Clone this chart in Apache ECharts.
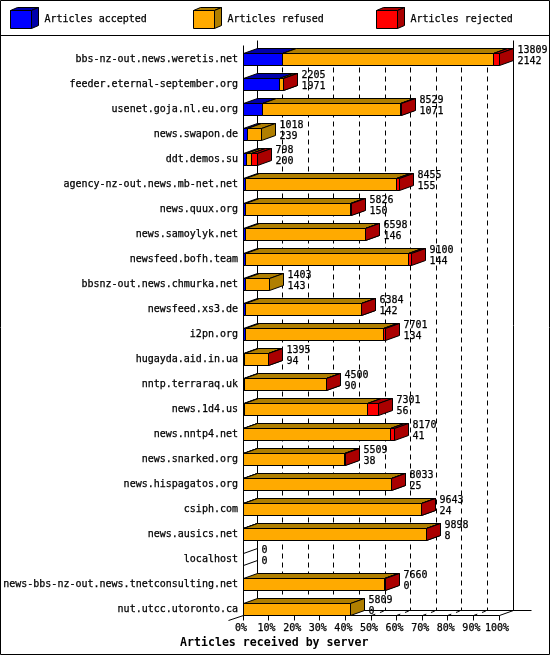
<!DOCTYPE html>
<html>
<head>
<meta charset="utf-8">
<style>html,body{margin:0;padding:0;background:#fff}#c{width:550px;height:655px}</style>
<script src="https://cdn.jsdelivr.net/npm/echarts@6/dist/echarts.min.js"></script>
</head>
<body>
<div id="c"></div>
<script>
const servers = ["bbs-nz-out.news.weretis.net","feeder.eternal-september.org","usenet.goja.nl.eu.org","news.swapon.de","ddt.demos.su","agency-nz-out.news.mb-net.net","news.quux.org","news.samoylyk.net","newsfeed.bofh.team","bbsnz-out.news.chmurka.net","newsfeed.xs3.de","i2pn.org","hugayda.aid.in.ua","nntp.terraraq.uk","news.1d4.us","news.nntp4.net","news.snarked.org","news.hispagatos.org","csiph.com","news.ausics.net","localhost","news-bbs-nz-out.news.tnetconsulting.net","nut.utcc.utoronto.ca"];
const offered = [13809,2205,8529,1018,798,8455,5826,6598,9100,1403,6384,7701,1395,4500,7301,8170,5509,8033,9643,9898,0,7660,5809];
const accepted = [2142,1971,1071,239,200,155,150,146,144,143,142,134,94,90,56,41,38,25,24,8,0,0,0];
const refused = [11344,220,7440,779,258,8140,5661,6446,8766,1260,6234,7427,1291,4398,6645,7914,5463,8000,9609,9878,0,7654,5809];
const rejected = [323,14,18,0,340,160,15,6,190,0,8,140,10,12,600,215,8,8,10,12,0,6,0];
const percentTicks = [0,10,20,30,40,50,60,70,80,90,100];
const FONT = '"DejaVu Sans Mono", monospace';
const TEXT_FONT = '10px ' + FONT;
const INK = {textBorderColor:'#000', textBorderWidth:0.25};
const DX = 14, DY = 5, HALF = 6;
const COLORS = [['#0000ff','#0000aa'],['#ffaa00','#b07f00'],['#ff0000','#aa0000']];
const scaleMax = Math.max(...offered);
const snap = v => Math.round(v - 0.5) + 0.5;
const pct = v => v / scaleMax * 100;
const chart = echarts.init(document.getElementById('c'), null, {renderer:'canvas'});

function poly(points, fill){
  return {type:'polygon', shape:{points}, style:{fill:fill, stroke:'#000', lineWidth:1}};
}
function line(x1,y1,x2,y2,dash){
  return {type:'line', shape:{x1,y1,x2,y2}, style:{stroke:'#000', lineWidth:1, lineDash:dash||null, fill:null}};
}
function segmentSeries(name, values, colorIdx, before){
  const rows = values.map((v,i) => [pct(before[i]), pct(before[i]+v), i, v, offered[i]]);
  return {
    name, type:'custom', z:3, coordinateSystem:'cartesian2d',
    itemStyle:{color:COLORS[colorIdx][0], borderColor:'#000', borderWidth:1},
    encode:{x:[0,1], y:2},
    data: rows,
    renderItem(params, api){
      const v = api.value(3);
      const cy = api.coord([0, api.value(2)])[1];
      const y0 = snap(cy - HALF), y1 = snap(cy + HALF);
      const xa = snap(api.coord([api.value(0), 0])[0]);
      const xb = snap(api.coord([api.value(1), 0])[0]);
      if (api.value(4) === 0 && colorIdx === 0) {
        return {type:'group', children:[line(xa,y0,xa+DX,y0-DY), line(xa,y1,xa+DX,y1-DY)]};
      }
      if (!(v > 0)) return {type:'group', children:[]};
      return {type:'group', children:[
        poly([[xa,y0],[xb,y0],[xb,y1],[xa,y1]], COLORS[colorIdx][0]),
        poly([[xa,y0],[xa+DX,y0-DY],[xb+DX,y0-DY],[xb,y0]], COLORS[colorIdx][1]),
        poly([[xb,y0],[xb+DX,y0-DY],[xb+DX,y1-DY],[xb,y1]], COLORS[colorIdx][1])
      ]};
    }
  };
}
const zeros = servers.map(()=>0);
const afterAccepted = accepted.slice();
const afterRefused = accepted.map((a,i)=>a+refused[i]);

const frameSeries = {
  type:'custom', z:1, silent:true, legendHoverLink:false,
  data:[[0,0]], encode:{x:0,y:1},
  renderItem(params, api){
    const yTop = api.coord([0,0])[1];
    const yBot = snap(api.coord([0,servers.length-1])[1] + HALF);
    const wallTop = snap(yTop - 19), frontTop = snap(yTop - 14);
    const kids = [];
    percentTicks.forEach(p=>{
      const x = snap(api.coord([p,0])[0]);
      const bx = x + DX, by = yBot - DY;
      if (p === 0 || p === 100) {
        kids.push(line(bx,wallTop,bx,by));
      } else {
        kids.push(line(bx,wallTop+9,bx,by,[5,4]));
        kids.push(line(x,yBot,bx,by,[4,5]));
      }
      kids.push(line(x,yBot,x,yBot+5));
    });
    const x0 = snap(api.coord([0,0])[0]), x1 = snap(api.coord([100,0])[0]);
    kids.push(line(x0,frontTop,x0,yBot));
    kids.push(line(x0,yBot,x1,yBot));
    kids.push(line(x0+DX,yBot-DY,x1+DX+18,yBot-DY));
    kids.push(line(x0-15,yBot+5,x0,yBot));
    kids.push(line(x1,yBot,x1+DX,yBot-DY));
    return {type:'group', children:kids};
  }
};
const labelSeries = {
  type:'custom', z:5, silent:true,
  data: offered.map((t,i)=>[pct(t), i, t, accepted[i]]),
  encode:{x:0,y:1},
  renderItem(params, api){
    const c = api.coord([api.value(0), api.value(1)]);
    const x = snap(c[0]) + DX + 4;
    const mk = (txt,y)=>({type:'text', x, y, style:Object.assign({text:String(txt), font:TEXT_FONT, fill:'#000', verticalAlign:'middle', align:'left', stroke:'#000', lineWidth:0.25})});
    return {type:'group', children:[mk(api.value(2), c[1]-9), mk(api.value(3), c[1]+2)]};
  }
};

function legendCube(x, colorIdx){
  const X0=x+.5, X1=x+21.5, Y0=10.5, Y1=28.5, D=7, H=3;
  const dark = COLORS[colorIdx][1];
  return [
    {type:'polygon', z:20, shape:{points:[[X0,Y0],[X0+D,Y0-H],[X1+D,Y0-H],[X1,Y0]]}, style:{fill:dark,stroke:'#000',lineWidth:1}},
    {type:'polygon', z:20, shape:{points:[[X1,Y0],[X1+D,Y0-H],[X1+D,Y1-H],[X1,Y1]]}, style:{fill:dark,stroke:'#000',lineWidth:1}}
  ];
}
function legendItem(name, left){
  return {left, top:10, padding:0, orient:'horizontal', data:[name], icon:'rect',
    itemWidth:21, itemHeight:18,
    itemStyle:{borderColor:'#000', borderWidth:1},
    selectedMode:false,
    textStyle:Object.assign({fontFamily:FONT, fontSize:10, color:'#000', padding:[0,0,0,8]}, INK)};
}

chart.setOption({
  animation:false,
  backgroundColor:'#fff',
  textStyle:{fontFamily:FONT},
  title:{text:'Articles received by server', left:180, top:637, padding:0,
    textStyle:{fontFamily:FONT, fontWeight:'bold', fontSize:11.6, color:'#000'}},
  legend:[legendItem('Articles accepted',10), legendItem('Articles refused',193), legendItem('Articles rejected',376)],
  grid:{left:243, top:46.5, width:256, height:575, containLabel:false},
  xAxis:{type:'value', min:0, max:100, interval:10, splitLine:{show:false}, axisLine:{show:false}, axisTick:{show:false},
    axisLabel:Object.assign({formatter:'{value}%', margin:0, padding:[2,4,0,0], fontFamily:FONT, fontSize:10, color:'#000', hideOverlap:false, showMinLabel:true, showMaxLabel:true}, INK)},
  yAxis:{type:'category', inverse:true, data:servers, axisLine:{show:false}, axisTick:{show:false}, splitLine:{show:false},
    axisLabel:Object.assign({margin:5, padding:[2,0,0,0], interval:0, fontFamily:FONT, fontSize:10, color:'#000'}, INK)},
  graphic:{elements:[
    {type:'rect', z:30, shape:{x:0.5,y:0.5,width:549,height:654}, style:{fill:null,stroke:'#000',lineWidth:1}},
    {type:'line', z:30, shape:{x1:0,y1:35.5,x2:550,y2:35.5}, style:{stroke:'#000',lineWidth:1}},
    ...legendCube(10,0), ...legendCube(193,1), ...legendCube(376,2)
  ]},
  series:[
    frameSeries,
    segmentSeries('Articles accepted', accepted, 0, zeros),
    segmentSeries('Articles refused', refused, 1, afterAccepted),
    segmentSeries('Articles rejected', rejected, 2, afterRefused),
    labelSeries
  ]
});
</script>
</body>
</html>
